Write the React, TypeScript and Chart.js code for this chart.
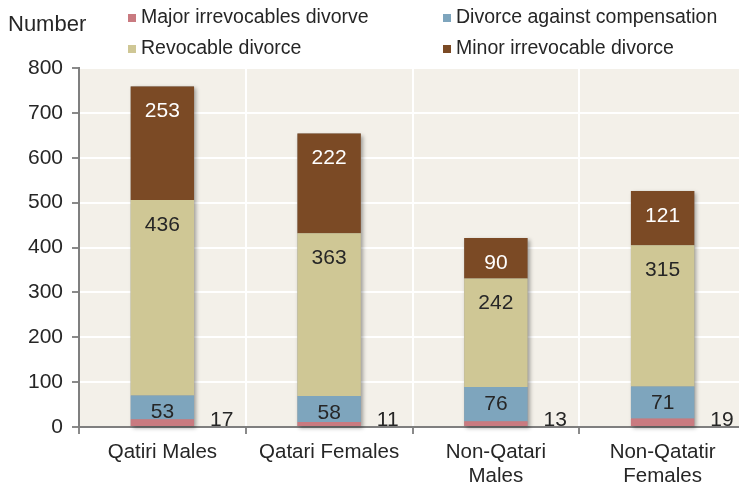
import React, { useEffect, useRef } from "react";
import { Chart, registerables } from "chart.js";

Chart.register(...registerables);

const categories: (string | string[])[] = [
  "Qatiri Males",
  "Qatari Females",
  ["Non-Qatari", "Males"],
  ["Non-Qatatir", "Females"],
];
const majorIrrevocable = [17, 11, 13, 19];
const againstCompensation = [53, 58, 76, 71];
const revocable = [436, 363, 242, 315];
const minorIrrevocable = [253, 222, 90, 121];
const yTicks = [0, 100, 200, 300, 400, 500, 600, 700, 800];

const seriesNames = [
  "Major irrevocables divorve",
  "Divorce against compensation",
  "Revocable divorce",
  "Minor irrevocable divorce",
];
const seriesColors = ["#c97a80", "#7ea5bd", "#cfc795", "#7b4a25"];
const labelColors = ["#262626", "#262626", "#262626", "#ffffff"];

const FONT = "Liberation Sans, Arial, sans-serif";

const decorPlugin = {
  id: "decor",
  beforeDraw(chart: any) {
    const { ctx, chartArea } = chart;
    ctx.save();
    ctx.fillStyle = "#f3f0e9";
    ctx.fillRect(chartArea.left, chartArea.top, chartArea.right - chartArea.left, chartArea.bottom - chartArea.top);
    ctx.restore();
  },
  beforeDatasetsDraw(chart: any) {
    const { ctx } = chart;
    const n = chart.data.datasets.length;
    const topMeta = chart.getDatasetMeta(n - 1);
    const botMeta = chart.getDatasetMeta(0);
    ctx.save();
    ctx.shadowColor = "rgba(0,0,0,0.35)";
    ctx.shadowBlur = 4;
    ctx.shadowOffsetX = 2;
    ctx.shadowOffsetY = 2;
    ctx.fillStyle = "#999";
    topMeta.data.forEach((bar: any, i: number) => {
      const b = botMeta.data[i];
      const left = bar.x - bar.width / 2;
      ctx.fillRect(left, bar.y, bar.width, b.base - bar.y);
    });
    ctx.restore();
  },
  afterDatasetsDraw(chart: any) {
    const { ctx } = chart;
    const yScale = chart.scales.y;
    ctx.save();
    ctx.font = `21px ${FONT}`;
    chart.data.datasets.forEach((ds: any, di: number) => {
      const meta = chart.getDatasetMeta(di);
      meta.data.forEach((bar: any, i: number) => {
        const v = ds.data[i];
        ctx.textBaseline = "middle";
        if (di === 0) {
          ctx.fillStyle = "#262626";
          ctx.textAlign = "left";
          ctx.fillText(String(v), bar.x + bar.width / 2 + 16, yScale.getPixelForValue(0) - 7);
        } else {
          ctx.fillStyle = labelColors[di];
          ctx.textAlign = "center";
          const off = di === 1 ? 17 : 25;
          ctx.fillText(String(v), bar.x, bar.y + off);
        }
      });
    });
    ctx.restore();
  },
  afterDraw(chart: any) {
    const { ctx } = chart;
    ctx.save();
    ctx.fillStyle = "#262626";
    ctx.font = `22px ${FONT}`;
    ctx.textAlign = "left";
    ctx.textBaseline = "middle";
    ctx.fillText("Number", 8, 25);
    const cols = [128, 443];
    const rows = [18, 49];
    ctx.font = `19.5px ${FONT}`;
    chart.data.datasets.forEach((ds: any, di: number) => {
      const x = cols[di % 2];
      const y = rows[Math.floor(di / 2)];
      ctx.fillStyle = ds.backgroundColor;
      ctx.fillRect(x, y - 4, 8, 8);
      ctx.fillStyle = "#262626";
      ctx.fillText(ds.label, x + 13, y);
    });
    ctx.restore();
  },
};

export default function App() {
  const ref = useRef<HTMLCanvasElement>(null);
  useEffect(() => {
    if (!ref.current) return;
    const seriesData = [majorIrrevocable, againstCompensation, revocable, minorIrrevocable];
    const chart = new Chart(ref.current, {
      type: "bar",
      data: {
        labels: categories,
        datasets: seriesData.map((d, i) => ({
          label: seriesNames[i],
          data: d,
          backgroundColor: seriesColors[i],
          borderWidth: 0,
          barPercentage: 0.38,
          categoryPercentage: 1,
        })),
      },
      options: {
        responsive: false,
        animation: false,
        layout: { padding: { top: 68, left: 0, right: 6, bottom: 0 } },
        plugins: { legend: { display: false }, tooltip: { enabled: false } },
        scales: {
          x: {
            stacked: true,
            grid: {
              color: "#ffffff",
              lineWidth: 2,
              tickColor: "#8a8a8a",
              tickLength: 7,
              offset: true,
            },
            border: { color: "#7f7f7f", width: 2 },
            ticks: {
              color: "#262626",
              font: { family: FONT, size: 20.5, lineHeight: 1.17 },
              padding: 6,
              maxRotation: 0,
            },
            afterFit(scale: any) {
              scale.height = 59;
            },
          },
          y: {
            stacked: true,
            min: 0,
            max: 800,
            afterBuildTicks(scale: any) {
              scale.ticks = yTicks.map((v) => ({ value: v }));
            },
            grid: {
              color: "#ffffff",
              lineWidth: 2,
              tickColor: "#8a8a8a",
              tickLength: 7,
            },
            border: { color: "#7f7f7f", width: 2 },
            ticks: {
              color: "#262626",
              font: { family: FONT, size: 21 },
              padding: 9,
            },
            afterFit(scale: any) {
              scale.width = 79;
            },
          },
        },
      },
      plugins: [decorPlugin],
    });
    return () => chart.destroy();
  }, []);
  return (
    <div style={{ position: "fixed", left: 0, top: 0, width: 739, height: 486, overflow: "hidden", background: "#fff" }}>
      <canvas ref={ref} width={752} height={486} />
    </div>
  );
}
